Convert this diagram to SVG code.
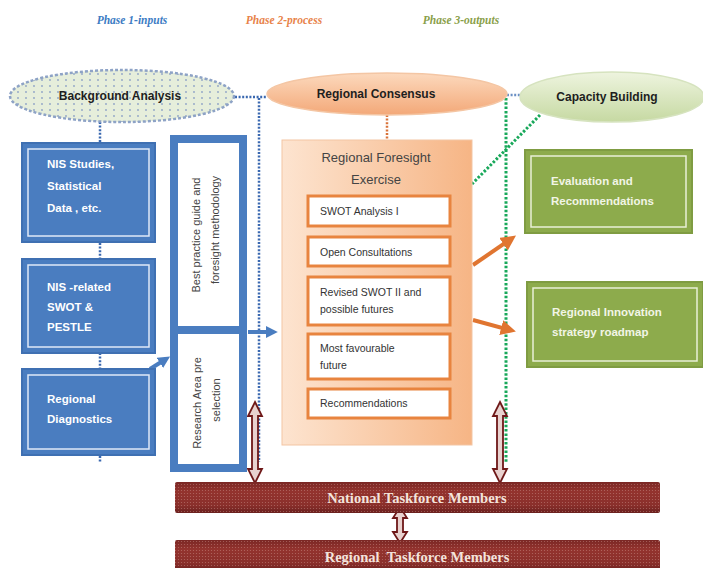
<svg xmlns="http://www.w3.org/2000/svg" width="703" height="568" viewBox="0 0 703 568">
<defs>
<style>
.ph{font-family:"Liberation Serif",serif;font-weight:bold;font-style:italic;font-size:11.5px}
.el{font-family:"Liberation Sans",Arial,sans-serif;font-weight:bold;font-size:12px;fill:#1e1e1e;text-anchor:middle}
.bt{font-family:"Liberation Sans",Arial,sans-serif;font-weight:bold;font-size:11.5px;fill:#ffffff}
.gt{font-family:"Liberation Sans",Arial,sans-serif;font-weight:bold;font-size:11.5px;fill:#f2f5e6}
.ot{font-family:"Liberation Sans",Arial,sans-serif;font-size:10.5px;fill:#333333}
.rt{font-family:"Liberation Sans",Arial,sans-serif;font-size:11px;fill:#444444;text-anchor:middle}
.tf{font-family:"Liberation Serif",serif;font-weight:bold;font-size:14.5px;fill:#f4e4dc;text-anchor:middle}
.blue{fill:#4a7dc0;stroke:#3f70b2;stroke-width:2}
.inner{fill:none;stroke:#dfe9f7;stroke-width:1.5}
.green{fill:#8dab4c;stroke:#7f9c42;stroke-width:2}
.ginner{fill:none;stroke:#e9f0d6;stroke-width:1.5}
.sub{fill:#ffffff;stroke:#e8843f;stroke-width:3}
.dblue{fill:none;stroke:#3a68b0;stroke-width:2.5;stroke-dasharray:2 1.6}
.dgreen{fill:none;stroke:#18a85a;stroke-width:3;stroke-dasharray:2.5 1.8}
.dorange{fill:none;stroke:#d9733a;stroke-width:2.5;stroke-dasharray:2 1.6}
.oarrow{fill:none;stroke:#e07530;stroke-width:4}
.barrow{fill:none;stroke:#4a7dc0;stroke-width:4}
.darrow{fill:#e8d2cf;stroke:#6e1818;stroke-width:1.8}
.bar{fill:url(#barg)}
</style>
<linearGradient id="rcg" x1="0" y1="0" x2="0" y2="1">
<stop offset="0" stop-color="#fcd9bd"/><stop offset="1" stop-color="#f3a878"/>
</linearGradient>
<linearGradient id="cbg" x1="0" y1="0" x2="0" y2="1">
<stop offset="0" stop-color="#eef4df"/><stop offset="1" stop-color="#c6d9a2"/>
</linearGradient>
<linearGradient id="rfg" x1="0" y1="0" x2="1" y2="0">
<stop offset="0" stop-color="#fde4d0"/><stop offset="1" stop-color="#f6b585"/>
</linearGradient>
<linearGradient id="barg" x1="0" y1="0" x2="0" y2="1">
<stop offset="0" stop-color="#7a2724"/><stop offset="0.3" stop-color="#93332e"/><stop offset="0.75" stop-color="#8a2f2b"/><stop offset="1" stop-color="#6a201e"/>
</linearGradient>
<pattern id="dots" width="8" height="6" patternUnits="userSpaceOnUse">
<rect width="8" height="6" fill="#e6eedb"/>
<circle cx="2" cy="2" r="0.9" fill="#8fa3c6"/>
</pattern>
<pattern id="bdots" width="3" height="3" patternUnits="userSpaceOnUse">
<circle cx="1.5" cy="1.5" r="0.6" fill="#d9a8a0" opacity="0.45"/>
</pattern>
<marker id="oh" viewBox="0 0 10 10" refX="6" refY="5" markerWidth="3.8" markerHeight="3.8" orient="auto">
<path d="M0,0 L10,5 L0,10 z" fill="#e07530"/>
</marker>
<marker id="bh" viewBox="0 0 10 10" refX="6" refY="5" markerWidth="3" markerHeight="3" orient="auto">
<path d="M0,0 L10,5 L0,10 z" fill="#4a7dc0"/>
</marker>
</defs>
<rect width="703" height="568" fill="#ffffff"/>

<g id="phases">
<text class="ph" x="132" y="24" text-anchor="middle" fill="#3d7cc4">Phase 1-inputs</text>
<text class="ph" x="284" y="24" text-anchor="middle" fill="#e8834a">Phase 2-process</text>
<text class="ph" x="461" y="24" text-anchor="middle" fill="#8aa04a">Phase 3-outputs</text>
</g>

<g id="connectors">
<path class="dblue" d="M235,97 H267"/>
<path class="dblue" d="M259,98 V462"/>
<path class="dblue" d="M100,122 V143"/>
<path class="dblue" d="M100,243 V258"/>
<path class="dblue" d="M100,353 V368"/>
<path class="dblue" d="M100,456 V462"/>
<path class="dorange" d="M387,115 V140"/>
<path class="dblue" d="M507,95 H521" style="stroke:#6a8fc4"/>
<path class="dgreen" d="M506,98 V463"/>
<path class="dgreen" d="M540,115 L472,184"/>
<path class="barrow" d="M150,369 L166,359" marker-end="url(#bh)"/>
<path class="barrow" d="M248,332 H273" marker-end="url(#bh)"/>
<path class="oarrow" d="M473,265 L511,239" marker-end="url(#oh)"/>
<path class="oarrow" d="M473,320 L510,330" marker-end="url(#oh)"/>
<path class="darrow" d="M255,402 L262,416 L258,416 L258,469 L262,469 L255,483 L248,469 L252,469 L252,416 L248,416 Z"/>
<path class="darrow" d="M500,402 L507,416 L503,416 L503,469 L507,469 L500,483 L493,469 L497,469 L497,416 L493,416 Z"/>
<path class="darrow" d="M400,507 L407,518 L403,518 L403,532 L407,532 L400,543 L393,532 L397,532 L397,518 L393,518 Z"/>
</g>

<g id="background-analysis">
<ellipse cx="122" cy="96" rx="112" ry="26" fill="url(#dots)" stroke="#8ea3c6" stroke-width="2.5" stroke-dasharray="3 2"/>
<text class="el" x="120" y="100">Background Analysis</text>
</g>
<g id="regional-consensus">
<ellipse cx="387" cy="94" rx="120" ry="21" fill="url(#rcg)" stroke="#f4c6a4" stroke-width="1.5"/>
<text class="el" x="376" y="98">Regional Consensus</text>
</g>
<g id="capacity-building">
<ellipse cx="612" cy="97" rx="92" ry="25" fill="url(#cbg)" stroke="#d6e3bf" stroke-width="1.5"/>
<text class="el" x="607" y="101">Capacity Building</text>
</g>

<g id="nis-studies">
<rect class="blue" x="22" y="143" width="133" height="99"/>
<rect class="inner" x="28" y="149" width="121" height="87"/>
<text class="bt" x="47" y="168">NIS Studies,</text>
<text class="bt" x="47" y="190">Statistical</text>
<text class="bt" x="47" y="212">Data , etc.</text>
</g>
<g id="nis-related">
<rect class="blue" x="22" y="259" width="133" height="94"/>
<rect class="inner" x="28" y="265" width="121" height="82"/>
<text class="bt" x="47" y="291">NIS -related</text>
<text class="bt" x="47" y="311">SWOT &amp;</text>
<text class="bt" x="47" y="331">PESTLE</text>
</g>
<g id="regional-diagnostics">
<rect class="blue" x="22" y="369" width="133" height="86"/>
<rect class="inner" x="28" y="375" width="121" height="74"/>
<text class="bt" x="47" y="403">Regional</text>
<text class="bt" x="47" y="423">Diagnostics</text>
</g>

<g id="best-practice">
<rect x="174" y="139" width="69" height="191" fill="#ffffff" stroke="#4a7dc0" stroke-width="8"/>
<text class="rt" transform="translate(200,235) rotate(-90)">Best practice guide and</text>
<text class="rt" transform="translate(219,230) rotate(-90)">foresight methodology</text>
</g>
<g id="research-area">
<rect x="174" y="330" width="69" height="138" fill="#ffffff" stroke="#4a7dc0" stroke-width="8"/>
<text class="rt" transform="translate(201,403) rotate(-90)">Research Area pre</text>
<text class="rt" transform="translate(220,400) rotate(-90)">selection</text>
</g>

<g id="regional-foresight">
<rect x="282" y="140" width="190" height="305" fill="url(#rfg)" stroke="#f3c5a3" stroke-width="1"/>
<text class="el" x="376" y="162" style="font-weight:normal;font-size:13px;fill:#444">Regional Foresight</text>
<text class="el" x="376" y="184" style="font-weight:normal;font-size:13px;fill:#444">Exercise</text>
</g>
<g id="swot-1">
<rect class="sub" x="308" y="196" width="142" height="30"/>
<text class="ot" x="320" y="215">SWOT Analysis I</text>
</g>
<g id="open-consultations">
<rect class="sub" x="308" y="237" width="142" height="29"/>
<text class="ot" x="320" y="256">Open Consultations</text>
</g>
<g id="revised-swot">
<rect class="sub" x="308" y="277" width="142" height="48"/>
<text class="ot" x="320" y="296">Revised SWOT II and</text>
<text class="ot" x="320" y="313">possible futures</text>
</g>
<g id="most-favourable">
<rect class="sub" x="308" y="334" width="142" height="45"/>
<text class="ot" x="320" y="352">Most favourable</text>
<text class="ot" x="320" y="369">future</text>
</g>
<g id="recommendations">
<rect class="sub" x="308" y="389" width="142" height="29"/>
<text class="ot" x="320" y="407">Recommendations</text>
</g>

<g id="evaluation">
<rect class="green" x="525" y="150" width="167" height="83"/>
<rect class="ginner" x="531" y="156" width="155" height="71"/>
<text class="gt" x="551" y="185">Evaluation and</text>
<text class="gt" x="551" y="205">Recommendations</text>
</g>
<g id="innovation-roadmap">
<rect class="green" x="527" y="282" width="176" height="85"/>
<rect class="ginner" x="533" y="288" width="164" height="73"/>
<text class="gt" x="552" y="316">Regional Innovation</text>
<text class="gt" x="552" y="336">strategy roadmap</text>
</g>

<g id="national-taskforce">
<rect class="bar" x="175" y="482" width="485" height="31" rx="2"/>
<rect x="175" y="482" width="485" height="31" fill="url(#bdots)"/>
<text class="tf" x="417" y="503">National Taskforce Members</text>
</g>
<g id="regional-taskforce">
<rect class="bar" x="175" y="540" width="485" height="31" rx="2"/>
<rect x="175" y="540" width="485" height="28" fill="url(#bdots)"/>
<text class="tf" x="417" y="562" xml:space="preserve">Regional  Taskforce Members</text>
</g>
</svg>
